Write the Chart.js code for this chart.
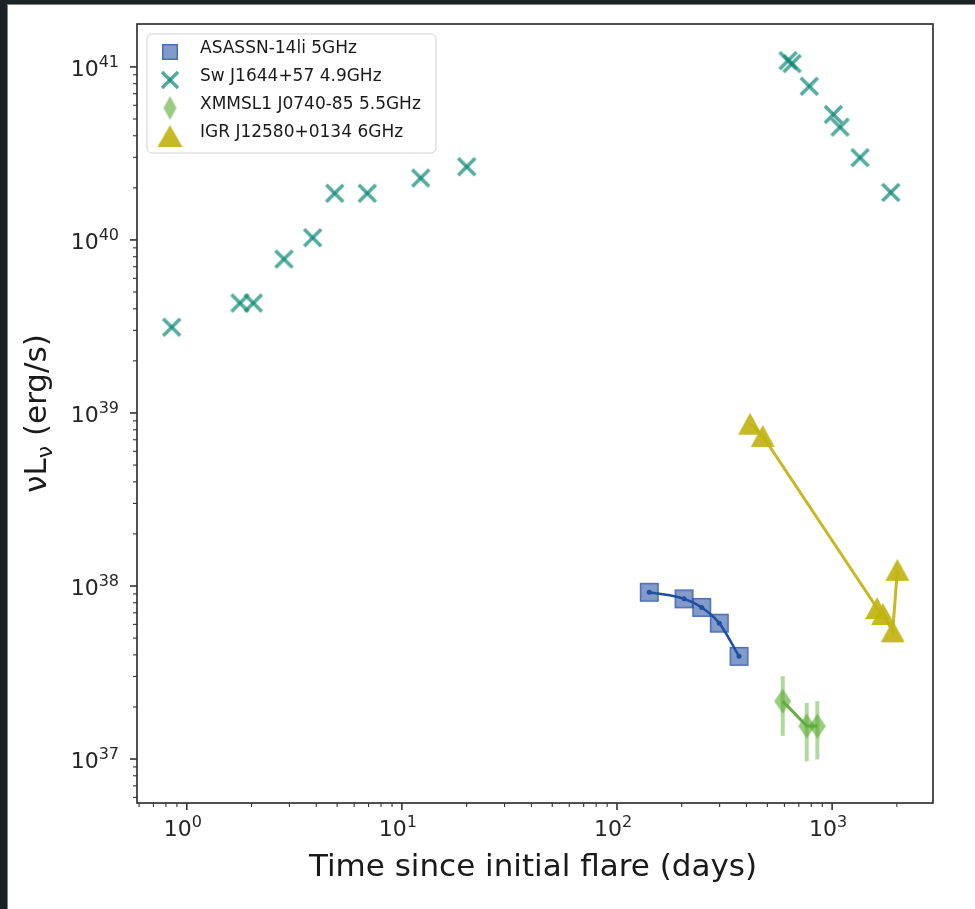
<!DOCTYPE html>
<html>
<head>
<meta charset="utf-8">
<title>Radio light curves</title>
<script src="https://cdn.jsdelivr.net/npm/chart.js@4.4.1/dist/chart.umd.min.js"></script>
<style>
  html, body { margin: 0; padding: 0; background: #1b2326; }
  body { width: 975px; height: 909px; overflow: hidden; position: relative; }
  #frame { position: absolute; left: 7px; top: 4px; width: 968px; height: 905px; background: #fff;
           border-left: 1px solid #7d8284; border-top: 1px solid #7d8284; }
  canvas { display: block; }
</style>
</head>
<body>
<div id="frame"><canvas id="lightCurve" width="967" height="904"></canvas></div>
<script>
// ---- data: days since flare / nu L_nu in erg/s ----
const asassnDays = [141.3, 204.9, 247.7, 298.9, 369.2];
const asassnLum  = [9.2e37, 8.43e37, 7.52e37, 6.1e37, 3.92e37];

const swDays = [0.851, 1.767, 2.038, 2.83, 3.848, 4.871, 6.905, 12.23, 20.01,
                623.7, 651, 783, 1013, 1088, 1348, 1873];
const swLum  = [3.13e39, 4.32e39, 4.32e39, 7.75e39, 1.03e40, 1.86e40, 1.86e40, 2.28e40, 2.65e40,
                1.087e41, 1.045e41, 7.73e40, 5.31e40, 4.49e40, 2.99e40, 1.88e40];

const xmmDays = [589.4, 762, 853.6];
const xmmLum  = [2.16e37, 1.55e37, 1.55e37];
const xmmLow  = [1.36e37, 9.7e36, 9.96e36];
const xmmHigh = [3.01e37, 2.11e37, 2.16e37];

const igrDays = [415.2, 475.6, 1617, 1724, 1913, 2010];
const igrLum  = [8.67e38, 7.37e38, 7.45e37, 6.88e37, 5.47e37, 1.24e38];

const seriesLabels = ['ASASSN-14li 5GHz', 'Sw J1644+57 4.9GHz', 'XMMSL1 J0740-85 5.5GHz', 'IGR J12580+0134 6GHz'];

// decades that carry a label, axis limits
const xDecades = [1, 10, 100, 1000];
const yDecades = [1e37, 1e38, 1e39, 1e40, 1e41];
const xLimits = [0.587, 2944];
const yLimits = [5.57e36, 1.77e41];

const FONT = '"DejaVu Sans", "Noto Sans", sans-serif';

function toPoints(xs, ys) {
    return xs.map((x, i) => ({ x: x, y: ys[i] }));
}

function isDecade(v) {
    const l = Math.log10(v);
    return Math.abs(l - Math.round(l)) < 1e-9;
}

// decades plus the 2..9 minor ticks inside the limits
function logTicks(min, max) {
    const out = [];
    for (let e = Math.floor(Math.log10(min)); e <= Math.ceil(Math.log10(max)); e++) {
        for (let m = 1; m < 10; m++) {
            const v = m * Math.pow(10, e);
            if (v >= min && v <= max) out.push({ value: v, major: m === 1 });
        }
    }
    return out;
}

// "10" with a raised exponent, anchored by align ('center' or 'right')
function drawPower(ctx, value, x, baseline, align) {
    const exp = String(Math.round(Math.log10(value)));
    ctx.font = '22px ' + FONT;
    const wb = ctx.measureText('10').width;
    ctx.font = '16px ' + FONT;
    const we = ctx.measureText(exp).width;
    const x0 = align === 'right' ? x - wb - we : x - (wb + we) / 2;
    ctx.textAlign = 'left';
    ctx.textBaseline = 'alphabetic';
    ctx.font = '22px ' + FONT;
    ctx.fillText('10', x0, baseline);
    ctx.font = '16px ' + FONT;
    ctx.fillText(exp, x0 + wb, baseline - 9);
}

// ---- marker sprites ----
function sprite(w, h, draw) {
    const c = document.createElement('canvas');
    c.width = w;
    c.height = h;
    draw(c.getContext('2d'), w, h);
    return c;
}

function squareMarker(size) {
    return sprite(size + 2, size + 2, (g, w, h) => {
        g.fillStyle = 'rgba(30, 72, 160, 0.55)';
        g.fillRect(1, 1, size, size);
        g.strokeStyle = 'rgba(30, 72, 160, 0.55)';
        g.lineWidth = 1.5;
        g.strokeRect(1.75, 1.75, size - 1.5, size - 1.5);
    });
}

function crossMarker(size) {
    return sprite(size + 4, size + 4, (g, w, h) => {
        g.strokeStyle = 'rgba(10, 135, 115, 0.7)';
        g.lineWidth = 3.5;
        g.lineCap = 'butt';
        const a = 2, b = size + 2;
        g.beginPath(); g.moveTo(a, a); g.lineTo(b, b); g.stroke();
        g.beginPath(); g.moveTo(b, a); g.lineTo(a, b); g.stroke();
    });
}

function diamondMarker(w0, h0) {
    return sprite(w0 + 2, h0 + 2, (g, w, h) => {
        g.fillStyle = 'rgba(85, 170, 45, 0.6)';
        g.beginPath();
        g.moveTo(w / 2, 1);
        g.lineTo(w - 1, h / 2);
        g.lineTo(w / 2, h - 1);
        g.lineTo(1, h / 2);
        g.closePath();
        g.fill();
    });
}

function triangleMarker(w0, h0) {
    return sprite(w0 + 2, h0 + 2, (g, w, h) => {
        g.fillStyle = 'rgba(192, 180, 20, 0.92)';
        g.beginPath();
        g.moveTo(w / 2, 1);
        g.lineTo(w - 1, h - 1);
        g.lineTo(1, h - 1);
        g.closePath();
        g.fill();
    });
}

const squareImg = squareMarker(19);
const crossImg = crossMarker(17);
const diamondImg = diamondMarker(17, 25);
const triangleImg = triangleMarker(24, 22);

const legendIcons = [squareMarker(16), crossMarker(16), diamondMarker(13, 24), triangleMarker(25, 22)];

// ---- extras drawn around the datasets ----
const decorations = {
    id: 'decorations',
    beforeDatasetsDraw(chart) {
        // error bars on the XMMSL1 points
        const ctx = chart.ctx, xs = chart.scales.x, ys = chart.scales.y;
        ctx.save();
        ctx.strokeStyle = 'rgba(100, 180, 60, 0.5)';
        ctx.lineWidth = 4;
        xmmDays.forEach((d, i) => {
            const px = xs.getPixelForValue(d);
            ctx.beginPath();
            ctx.moveTo(px, ys.getPixelForValue(xmmLow[i]));
            ctx.lineTo(px, ys.getPixelForValue(xmmHigh[i]));
            ctx.stroke();
        });
        ctx.restore();
    },
    afterDraw(chart) {
        const ctx = chart.ctx, area = chart.chartArea;
        const xs = chart.scales.x, ys = chart.scales.y;
        ctx.save();

        // axes frame
        ctx.strokeStyle = '#262626';
        ctx.lineWidth = 1.6;
        ctx.strokeRect(area.left, area.top, area.right - area.left, area.bottom - area.top);

        // tick marks, longer on decades
        ctx.strokeStyle = '#333';
        xs.ticks.forEach(t => {
            const major = isDecade(t.value);
            const p = xs.getPixelForValue(t.value);
            ctx.lineWidth = major ? 1.6 : 1.1;
            ctx.beginPath();
            ctx.moveTo(p, area.bottom);
            ctx.lineTo(p, area.bottom + (major ? 7 : 4));
            ctx.stroke();
        });
        ys.ticks.forEach(t => {
            const major = isDecade(t.value);
            const p = ys.getPixelForValue(t.value);
            ctx.lineWidth = major ? 1.6 : 1.1;
            ctx.beginPath();
            ctx.moveTo(area.left, p);
            ctx.lineTo(area.left - (major ? 7 : 4), p);
            ctx.stroke();
        });

        // decade labels
        ctx.fillStyle = '#262626';
        xDecades.forEach(v => drawPower(ctx, v, xs.getPixelForValue(v) - 4, area.bottom + 33, 'center'));
        yDecades.forEach(v => drawPower(ctx, v, area.left - 18, ys.getPixelForValue(v) + 9, 'right'));

        // axis titles
        ctx.fillStyle = '#1a1a1a';
        ctx.textAlign = 'center';
        ctx.textBaseline = 'middle';
        ctx.font = '31px ' + FONT;
        ctx.fillText('Time since initial flare (days)', (area.left + area.right) / 2 - 2, 863);

        ctx.save();
        ctx.translate(27, (area.top + area.bottom) / 2);
        ctx.rotate(-Math.PI / 2);
        ctx.textAlign = 'left';
        ctx.textBaseline = 'alphabetic';
        const big = '31px ' + FONT, small = '22px ' + FONT;
        ctx.font = big;
        const w1 = ctx.measureText('νL').width;
        const w3 = ctx.measureText(' (erg/s)').width;
        ctx.font = small;
        const w2 = ctx.measureText('ν').width;
        const x0 = -(w1 + w2 + w3) / 2;
        ctx.font = big;
        ctx.fillText('νL', x0, 11);
        ctx.font = small;
        ctx.fillText('ν', x0 + w1, 17);
        ctx.font = big;
        ctx.fillText(' (erg/s)', x0 + w1 + w2, 11);
        ctx.restore();

        // legend box
        const bx = area.left + 10, by = area.top + 10, bw = 289, bh = 119, r = 5;
        ctx.beginPath();
        ctx.moveTo(bx + r, by);
        ctx.arcTo(bx + bw, by, bx + bw, by + bh, r);
        ctx.arcTo(bx + bw, by + bh, bx, by + bh, r);
        ctx.arcTo(bx, by + bh, bx, by, r);
        ctx.arcTo(bx, by, bx + bw, by, r);
        ctx.closePath();
        ctx.fillStyle = 'rgba(255, 255, 255, 0.8)';
        ctx.fill();
        ctx.strokeStyle = '#d0d0d0';
        ctx.lineWidth = 1;
        ctx.stroke();

        ctx.font = '17px ' + FONT;
        ctx.fillStyle = '#1a1a1a';
        ctx.textAlign = 'left';
        ctx.textBaseline = 'middle';
        seriesLabels.forEach((label, i) => {
            const cy = by + 18 + i * 28;
            const icon = legendIcons[i];
            ctx.drawImage(icon, bx + 23 - icon.width / 2, cy - icon.height / 2);
            ctx.fillText(label, bx + 53, cy - 3.5);
        });

        ctx.restore();
    }
};

const ctx = document.getElementById('lightCurve');

new Chart(ctx, {
    type: 'scatter',
    data: {
        datasets: [
            {
                // connecting line with small dots for ASASSN-14li
                data: toPoints(asassnDays, asassnLum),
                showLine: true,
                cubicInterpolationMode: 'monotone',
                borderColor: '#1f4f9f',
                borderWidth: 2.5,
                pointRadius: 2.5,
                pointBackgroundColor: '#1f4f9f',
                pointBorderWidth: 0
            },
            {
                label: seriesLabels[0],
                data: toPoints(asassnDays, asassnLum),
                pointStyle: squareImg,
                pointRadius: 10
            },
            {
                label: seriesLabels[1],
                data: toPoints(swDays, swLum),
                pointStyle: crossImg,
                pointRadius: 10
            },
            {
                data: toPoints(xmmDays, xmmLum),
                showLine: true,
                borderColor: 'rgba(95, 170, 55, 0.95)',
                borderWidth: 3,
                pointRadius: 0
            },
            {
                label: seriesLabels[2],
                data: toPoints(xmmDays, xmmLum),
                pointStyle: diamondImg,
                pointRadius: 10
            },
            {
                label: seriesLabels[3],
                data: toPoints(igrDays, igrLum),
                showLine: true,
                borderColor: 'rgba(192, 180, 20, 0.92)',
                borderWidth: 3,
                pointStyle: triangleImg,
                pointRadius: 10
            }
        ]
    },
    options: {
        responsive: false,
        animation: false,
        events: [],
        layout: { padding: { top: 19, right: 42, left: 0, bottom: 0 } },
        plugins: {
            legend: { display: false },
            tooltip: { enabled: false }
        },
        scales: {
            x: {
                type: 'logarithmic',
                min: xLimits[0],
                max: xLimits[1],
                bounds: 'data',
                afterBuildTicks: scale => { scale.ticks = logTicks(xLimits[0], xLimits[1]); },
                afterFit: scale => { scale.height = 106; },
                grid: { display: false, drawTicks: true, tickLength: 7 },
                border: { display: false },
                ticks: { autoSkip: false, maxRotation: 0, callback: () => '' }
            },
            y: {
                type: 'logarithmic',
                min: yLimits[0],
                max: yLimits[1],
                bounds: 'data',
                afterBuildTicks: scale => { scale.ticks = logTicks(yLimits[0], yLimits[1]); },
                afterFit: scale => { scale.width = 129; },
                grid: { display: false, drawTicks: true, tickLength: 7 },
                border: { display: false },
                ticks: { autoSkip: false, callback: () => '' }
            }
        }
    },
    plugins: [decorations]
});
</script>
</body>
</html>
